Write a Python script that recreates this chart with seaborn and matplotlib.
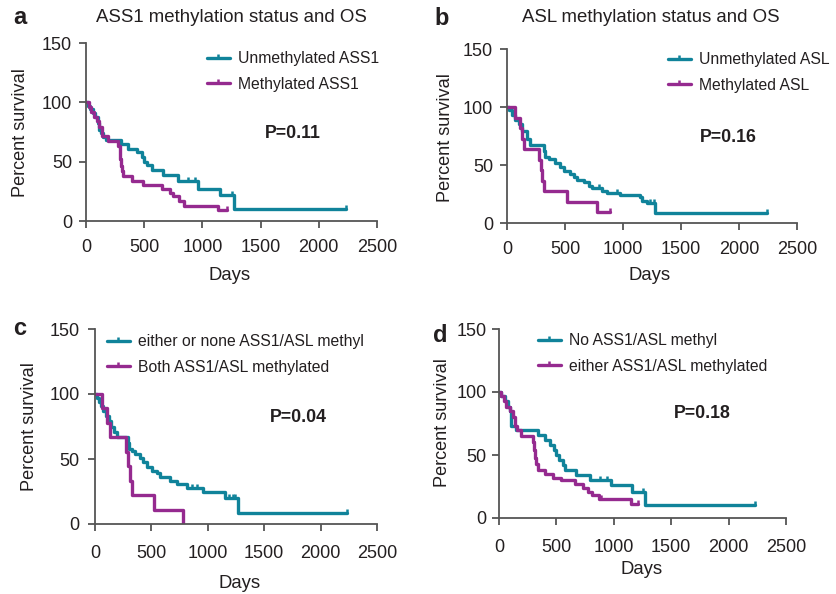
import numpy as np
import pandas as pd
import seaborn as sns
import matplotlib.pyplot as plt
from matplotlib.lines import Line2D

# Kaplan-Meier step data (days, percent survival)
# panel a - ASS1
a_un_t = [0, 15, 35, 60, 80, 100, 110, 130, 150, 175, 298, 364, 436, 479, 499, 522, 565, 665, 794, 966, 1152, 1273, 2230]
a_un_s = [100, 97, 94, 91, 88, 83, 77, 74, 71, 68, 65, 61, 58, 54, 50, 47, 43, 39, 34, 27, 22, 10.5, 10.5]
a_un_cens = [880, 935, 1250, 2230]
a_me_t = [0, 25, 45, 70, 95, 115, 135, 192, 278, 288, 296, 302, 310, 321, 393, 493, 651, 722, 751, 800, 845, 1138, 1210]
a_me_s = [100, 96, 92, 88, 84, 79, 72, 67, 63, 58, 52, 46, 42, 38, 34, 30, 27, 24, 21, 17, 13, 9, 9]
a_me_cens = [1210]

# panel b - ASL
b_un_t = [0, 20, 45, 70, 100, 130, 172, 200, 316, 330, 360, 417, 460, 489, 546, 575, 604, 661, 704, 733, 819, 862, 977, 1150, 1164, 1207, 1279, 2242]
b_un_s = [100, 97, 93, 89, 85, 79, 72, 67.5, 62, 57, 55, 52, 48, 45, 42, 40, 37, 35, 32, 30, 28, 26, 24, 22, 19, 17, 8.5, 8.5]
b_un_cens = [790, 948, 1236, 1265, 2242]
b_me_t = [0, 72, 115, 130, 145, 273, 290, 305, 322, 517, 776, 891]
b_me_s = [100, 90.9, 81.8, 72.7, 63.6, 54.5, 45.5, 36.4, 27.3, 18.2, 9.1, 9.1]
b_me_cens = [891]

# panel c - both methylated
c_un_t = [0, 15, 35, 55, 75, 100, 120, 145, 170, 192, 296, 305, 325, 355, 400, 429, 460, 503, 547, 577, 666, 725, 814, 960, 1152, 1270, 2234]
c_un_s = [100, 97, 94, 91, 87, 83, 79, 75, 71, 67, 62, 58, 56, 54, 51, 48, 44, 41, 39, 36, 33, 31, 28, 25, 20, 8.5, 8.5]
c_un_cens = [860, 900, 1190, 1220, 1245, 2234]
c_me_t = [0, 59, 104, 133, 275, 296, 311, 325, 524, 778]
c_me_s = [100, 88.9, 77.8, 66.7, 55.6, 44.4, 33.3, 22.2, 11.1, 0]
c_me_cens = []

# panel d - either methylated
d_un_t = [0, 15, 50, 80, 100, 108, 151, 340, 399, 442, 480, 500, 524, 559, 579, 675, 797, 972, 1161, 1272, 2226]
d_un_s = [100, 97, 93, 88, 85, 73, 70, 66, 62, 58, 54, 50, 46, 42, 38, 34, 30.5, 26, 21, 10.5, 10.5]
d_un_cens = [879, 937, 1251, 2226]
d_me_t = [0, 20, 40, 65, 100, 125, 140, 160, 195, 297, 305, 312, 320, 340, 399, 471, 544, 660, 733, 777, 806, 870, 1149, 1215]
d_me_s = [100, 97, 93, 88, 85, 80, 73, 70, 65, 60, 54, 48, 43, 38, 35, 32, 30, 27, 24, 21, 18, 15, 11, 11]
d_me_cens = [890, 1215]

letters = ["a", "b", "c", "d"]
titles = ["ASS1 methylation status and OS", "ASL methylation status and OS", "", ""]
legend_labels = [
    ["Unmethylated ASS1", "Methylated ASS1"],
    ["Unmethylated ASL", "Methylated ASL"],
    ["either or none ASS1/ASL methyl", "Both ASS1/ASL methylated"],
    ["No ASS1/ASL methyl", "either ASS1/ASL methylated"],
]
p_values = ["P=0.11", "P=0.16", "P=0.04", "P=0.18"]

TEAL = "#10839a"
PURPLE = "#952a8f"
TXT = "#231f20"
AX = "#555555"

sns.set_style("ticks")
plt.rcParams['font.family'] = ['Liberation Sans', 'DejaVu Sans']

W, H = 836, 594
fig = plt.figure(figsize=(W / 100, H / 100), dpi=100)


def fx(px):
    return px / W


def fy(py):
    return 1 - py / H


# layout in pixels: axes box (left, top, right, bottom) and text anchors
boxes = [(86, 43, 377, 221), (507, 49, 797, 223), (95, 329, 377, 524), (499, 329, 786, 518)]
letter_pos = [(13, 24), (434, 25), (13, 335), (433, 342)]
title_pos = [(231, 18), (651, 18), None, None]
p_pos = [(293, 133), (728, 137), (298, 417), (702, 413)]
xlab_pos = [(230, 275), (650, 275), (240, 583), (642, 570)]
ylab_pos = [(21, 133), (445, 138), (29, 427), (442, 423)]
leg_pos = [(207, 51), (668, 52), (107, 334), (538, 333)]
xpads = [8, 8, 10, 10]
ypads = [5, 5, 6, 4]

curves = [
    (a_un_t, a_un_s, a_un_cens, a_me_t, a_me_s, a_me_cens),
    (b_un_t, b_un_s, b_un_cens, b_me_t, b_me_s, b_me_cens),
    (c_un_t, c_un_s, c_un_cens, c_me_t, c_me_s, c_me_cens),
    (d_un_t, d_un_s, d_un_cens, d_me_t, d_me_s, d_me_cens),
]


def level_at(t, s, times):
    idx = np.searchsorted(t, times, side='right') - 1
    return np.asarray(s)[idx]


for i, (ut, us, uc, mt, ms, mc) in enumerate(curves):
    l, t, r, b = boxes[i]
    ax = fig.add_axes([fx(l), fy(b), fx(r) - fx(l), fy(t) - fy(b)])

    for tt, ss, cc, col in [(ut, us, uc, TEAL), (mt, ms, mc, PURPLE)]:
        df = pd.DataFrame({"days": tt, "surv": ss})
        sns.lineplot(data=df, x="days", y="surv", ax=ax, color=col, lw=2.4,
                     drawstyle='steps-post', estimator=None, sort=False)
        if len(cc):
            # censored patients: small upward tick on the curve
            cdf = pd.DataFrame({"days": cc, "surv": level_at(tt, ss, cc)})
            sns.scatterplot(data=cdf, x="days", y="surv", ax=ax, marker=2,
                            s=9, color=col, linewidth=1.8, zorder=3)

    ax.set_xlim(0, 2500)
    ax.set_ylim(0, 150)
    ax.set_xticks([0, 500, 1000, 1500, 2000, 2500])
    ax.set_yticks([0, 50, 100, 150])
    ax.set_xlabel("")
    ax.set_ylabel("")
    sns.despine(ax=ax)
    for sp in ["left", "bottom"]:
        ax.spines[sp].set_color(AX)
        ax.spines[sp].set_linewidth(1.3)
    ax.tick_params(axis='both', colors=AX, labelcolor=TXT, labelsize=13,
                   length=5, width=1.3)
    ax.tick_params(axis='x', pad=xpads[i])
    ax.tick_params(axis='y', pad=ypads[i])
    ax.patch.set_alpha(0)

    handles = [Line2D([], [], color=TEAL, lw=2.4, marker=2, ms=3, mew=1.8),
               Line2D([], [], color=PURPLE, lw=2.4, marker=2, ms=3, mew=1.8)]
    lx, ly = leg_pos[i]
    leg = ax.legend(handles, legend_labels[i], loc='upper left',
                    bbox_to_anchor=(fx(lx), fy(ly)), bbox_transform=fig.transFigure,
                    frameon=False, borderpad=0, borderaxespad=0, fontsize=11.3,
                    handlelength=1.45, handletextpad=0.5, labelspacing=0.7)
    for txt in leg.get_texts():
        txt.set_color(TXT)

    fig.text(fx(letter_pos[i][0]), fy(letter_pos[i][1]), letters[i], fontsize=17,
             fontweight='bold', color=TXT, ha='left', va='baseline')
    if title_pos[i] is not None:
        fig.text(fx(title_pos[i][0]), fy(title_pos[i][1]), titles[i], fontsize=13.4,
                 color=TXT, ha='center', va='center')
    fig.text(fx(p_pos[i][0]), fy(p_pos[i][1]), p_values[i], fontsize=12.8,
             fontweight='bold', color=TXT, ha='center', va='center')
    fig.text(fx(xlab_pos[i][0]), fy(xlab_pos[i][1]), "Days", fontsize=13.3,
             color=TXT, ha='center', va='center')
    fig.text(fx(ylab_pos[i][0]), fy(ylab_pos[i][1]), "Percent survival", fontsize=13.1,
             color=TXT, ha='center', va='center', rotation=90)

fig.savefig("out.png", dpi=100)
